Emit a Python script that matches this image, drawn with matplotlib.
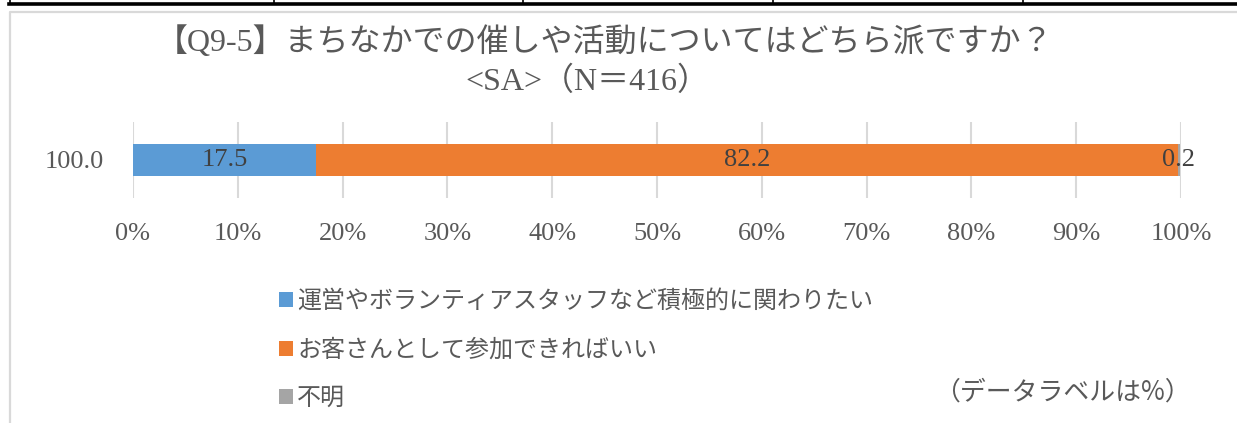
import matplotlib
matplotlib.use("Agg")
import matplotlib.pyplot as plt
from matplotlib.lines import Line2D
from matplotlib.ticker import FuncFormatter

plt.rcParams['font.family'] = ['Liberation Serif', 'Noto Sans CJK JP', 'DejaVu Sans']

# --- data ---------------------------------------------------------------
title_line1 = "【Q9-5】まちなかでの催しや活動についてはどちら派ですか？"
title_line2 = "<SA>（N＝416）"
category = ["100.0"]
series_names = [
    "運営やボランティアスタッフなど積極的に関わりたい",
    "お客さんとして参加できればいい",
    "不明",
]
series_values = [17.5, 82.2, 0.2]
series_colors = ["#5B9BD5", "#ED7D31", "#A5A5A5"]
x_ticks = [0, 10, 20, 30, 40, 50, 60, 70, 80, 90, 100]
note_text = "（データラベルは%）"

TEXT = "#595959"
GRID = "#D9D9D9"

W, H = 1237, 423
fig = plt.figure(figsize=(W / 100, H / 100), dpi=100)


def fx(px):
    return px / W


def fy(py):
    return 1 - py / H


# table border above the chart and chart frame
fig.add_artist(Line2D([fx(9), 1], [fy(4.5), fy(4.5)], color="black", lw=2.6,
                      transform=fig.transFigure))
for xv in [9.5, 274, 523, 773, 1023]:
    fig.add_artist(Line2D([fx(xv), fx(xv)], [1, fy(4.5)], color="black", lw=1.2,
                          transform=fig.transFigure))
fig.add_artist(Line2D([fx(10), fx(10), 1], [0, fy(12), fy(12)], color=GRID, lw=1.6,
                      transform=fig.transFigure))

# --- plot area ------------------------------------------------------------
ax = fig.add_axes([fx(133), fy(198), fx(1181) - fx(133), fy(122) - fy(198)])

left = 0.0
for name, val, col in zip(series_names, series_values, series_colors):
    bars = ax.barh(category, [val], left=[left], height=0.41, color=col,
                   label=name, zorder=2)
    ax.bar_label(bars, labels=[f"{val:.1f}"], label_type="center",
                 fontsize=19, color="#404040")
    left += val

ax.set_xlim(0, 100)
ax.set_ylim(-0.5, 0.5)
ax.set_xticks(x_ticks)
ax.xaxis.set_major_formatter(FuncFormatter(lambda v, p: f"{v:.0f}%"))
ax.grid(axis="x", color=GRID, lw=1.5)
ax.set_axisbelow(True)
for s in ax.spines.values():
    s.set_visible(False)
ax.tick_params(axis="both", length=0, labelsize=19, labelcolor=TEXT)
ax.tick_params(axis="x", pad=18)
ax.tick_params(axis="y", pad=21)

# --- title ------------------------------------------------------------------
fig.text(fx(605), fy(42), title_line1, ha="center", va="center",
         fontsize=23, color=TEXT)
fig.text(fx(587), fy(82), title_line2, ha="center", va="center",
         fontsize=23, color=TEXT)

# --- legend -----------------------------------------------------------------
handles, labels = ax.get_legend_handles_labels()
leg = fig.legend(handles, labels, loc="upper left",
                 bbox_to_anchor=(fx(279), fy(290)), frameon=False,
                 fontsize=17.3, handlelength=0.6, handleheight=0.6,
                 handletextpad=0.15, labelspacing=1.1, borderpad=0,
                 borderaxespad=0)
for t in leg.get_texts():
    t.set_color(TEXT)

fig.text(fx(1062), fy(392), note_text, ha="center", va="center",
         fontsize=18.6, color=TEXT, family=["Noto Sans CJK JP"])

fig.savefig("out.png", dpi=100)
